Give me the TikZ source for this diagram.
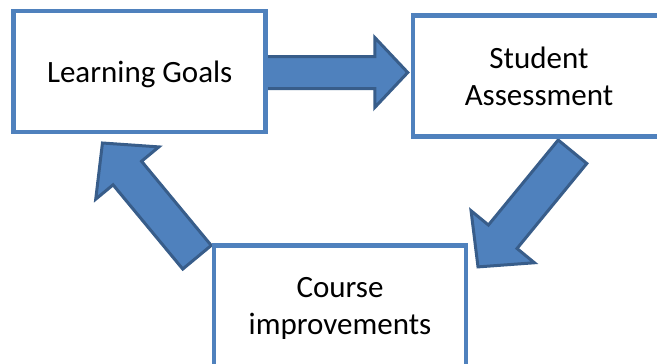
\documentclass[tikz,border=0pt]{standalone}
\usepackage{fontspec}
\setmainfont{Carlito}
\usetikzlibrary{calc,backgrounds}
\definecolor{boxblue}{HTML}{4F81BD}
\definecolor{edgeblue}{HTML}{385D8A}
\tikzset{
stage/.style={draw=boxblue,line width=4.5pt,fill=white,minimum width=252pt,minimum height=121pt,align=center,font=\fontsize{31}{37}\selectfont,text depth=0pt},
flow/.style={draw=edgeblue,line width=3pt,fill=boxblue,line join=miter}
}
\newcommand{\blockarrow}[5]{%
\coordinate(ba-h)at($(#2)!#5pt!(#1)$);
\draw[flow]($(#1)!#3pt!90:(#2)$)--($(ba-h)!#3pt!90:(#2)$)--($(ba-h)!#4pt!90:(#2)$)--(#2)--($(ba-h)!#4pt!-90:(#2)$)--($(ba-h)!#3pt!-90:(#2)$)--($(#1)!#3pt!-90:(#2)$)--cycle;
}
\begin{document}
\begin{tikzpicture}[x=1pt,y=-1pt]
\useasboundingbox(0,0)rectangle(657,364);
\pgfmathsetmacro{\kws}{16}
\pgfmathsetmacro{\kwh}{35}
\pgfmathsetmacro{\klh}{33}
\pgfmathsetmacro{\kWs}{18.5}
\pgfmathsetmacro{\kWh}{41}
\pgfmathsetmacro{\kLh}{39}
\node[stage](goals)at(139.7,71.5){Learning Goals};
\node[stage](assess)at(539,76){Student\\Assessment};
\node[stage](course)at(340,306){Course\\improvements};
\coordinate(g-out)at($(goals.east)+(-3,1)$);
\coordinate(a-in)at($(assess.west)+(-3,-3.5)$);
\coordinate(a-out)at($(assess.south)+(33.5,13)$);
\coordinate(c-in)at($(course.north east)+(9.75,23.65)$);
\coordinate(c-out)at($(course.north west)+(-14.75,14)$);
\coordinate(g-in)at($(goals.south west)+(91,8.75)$);
\begin{scope}[on background layer]
\blockarrow{g-out}{a-in}{\kws}{\kwh}{\klh}
\blockarrow{a-out}{c-in}{\kWs}{\kWh}{\kLh}
\blockarrow{c-out}{g-in}{\kWs}{\kWh}{\kLh}
\end{scope}
\end{tikzpicture}
\end{document}
